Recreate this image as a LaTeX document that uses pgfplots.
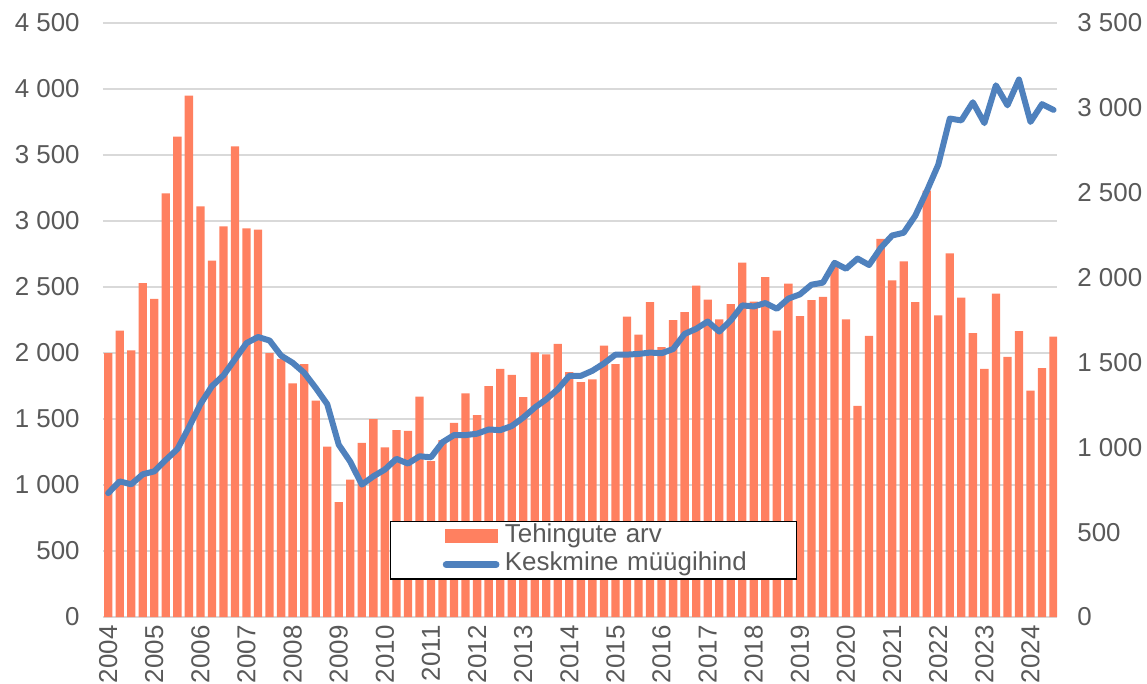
\documentclass[border=0pt]{standalone}
\usepackage{pgfplots}
\pgfplotsset{compat=1.18}
\usepackage{pgfplotstable}
\usepackage{fontspec}
\setmainfont{Liberation Sans}
\definecolor{barc}{RGB}{255,128,96}
\definecolor{linec}{RGB}{79,129,189}
\definecolor{txt}{RGB}{89,89,89}
\definecolor{gridc}{RGB}{217,217,217}
\newcommand\lab{\fontsize{13}{15}\selectfont}

% quarterly data, q=0 is 2004 Q1
\pgfplotstableread{
q n p
0 2000 730
1 2170 799
2 2020 782
3 2530 841
4 2410 858
5 3210 926
6 3640 989
7 3950 1117
8 3110 1254
9 2700 1360
10 2960 1424
11 3565 1519
12 2945 1614
13 2935 1650
14 2000 1629
15 1955 1540
16 1770 1498
17 1915 1439
18 1640 1350
19 1290 1254
20 870 1015
21 1040 915
22 1320 780
23 1500 829
24 1285 869
25 1415 932
26 1410 904
27 1670 947
28 1180 941
29 1340 1030
30 1470 1072
31 1695 1072
32 1530 1080
33 1750 1105
34 1880 1101
35 1835 1125
36 1665 1175
37 2005 1234
38 1990 1283
39 2070 1342
40 1855 1421
41 1780 1421
42 1800 1451
43 2055 1494
44 1915 1546
45 2275 1546
46 2140 1550
47 2385 1558
48 2045 1554
49 2250 1579
50 2310 1668
51 2510 1698
52 2405 1741
53 2255 1682
54 2370 1747
55 2685 1836
56 2390 1830
57 2575 1850
58 2170 1816
59 2525 1876
60 2280 1901
61 2400 1958
62 2425 1970
63 2650 2087
64 2255 2052
65 1600 2112
66 2130 2074
67 2865 2174
68 2550 2248
69 2695 2264
70 2385 2364
71 3230 2509
72 2285 2665
73 2755 2937
74 2420 2926
75 2150 3033
76 1880 2910
77 2450 3133
78 1970 3015
79 2165 3167
80 1715 2917
81 1885 3022
82 2125 2988
}\data

\begin{document}
\begin{tikzpicture}
\useasboundingbox (-51.5bp,-33.5bp) rectangle (522bp,308.5bp);
\begin{axis}[
    scale only axis, width=477bp, height=297bp,
    xmin=-0.45, xmax=82.3, ymin=0, ymax=4500,
    axis x line*=bottom, axis y line*=left,
    x axis line style={draw=gridc, line width=0.9bp, -},
    y axis line style={draw=none},
    major tick length=0,
    ytick={0,500,...,4500},
    ymajorgrids, grid style={gridc, line width=0.8bp},
    xtick={0,4,...,80},
    xticklabels={2004,2005,2006,2007,2008,2009,2010,2011,2012,2013,2014,2015,2016,2017,2018,2019,2020,2021,2022,2023,2024},
    tick label style={font=\lab, text=txt},
    xticklabel style={rotate=90, anchor=east, inner xsep=4bp, inner ysep=0pt},
    yticklabel style={inner xsep=0pt, xshift=-11.5bp},
    scaled y ticks=false,
    /pgf/number format/1000 sep={\ },
    /pgf/number format/assume math mode=true,
]
\addplot[ybar, bar width=0.72, fill=barc, draw=none] table[x=q, y=n] {\data};
\end{axis}
\begin{axis}[
    scale only axis, width=477bp, height=297bp,
    xmin=-0.45, xmax=82.3, ymin=0, ymax=3500,
    axis x line=none, axis y line*=right,
    y axis line style={draw=none},
    major tick length=0,
    ytick={0,500,...,3500},
    yticklabel style={font=\lab, text=txt, anchor=west, inner xsep=0pt, xshift=10bp},
    scaled y ticks=false,
    /pgf/number format/1000 sep={\ },
    /pgf/number format/assume math mode=true,
    legend cell align=left,
    legend style={at={(0.3004,0.0623)}, anchor=south west, draw=black,
        line width=0.75bp, fill=white, inner xsep=0pt, inner ysep=0.2bp,
        row sep=0pt, font=\lab, text=txt,
        nodes={inner sep=0pt, text height=10.3bp, text depth=3.95bp},
        /tikz/every odd column/.append style={column sep=2.7bp},
        /tikz/every even column/.append style={text width=145.8bp}},
]
\addlegendimage{legend image code/.code={
    \path[draw=none, fill=none] (0bp,-1bp) rectangle (54bp,1bp);
    \fill[barc, draw=none] (27.4bp,-3.4bp) rectangle (53.7bp,3.4bp);}}
\addlegendentry{Tehingute arv}
\addplot[linec, line width=3bp, line join=round, line cap=round,
    legend image code/.code={
    \path[draw=none, fill=none] (0bp,-1bp) rectangle (54bp,1bp);
    \draw[linec, line width=3.35bp, line cap=round] (27.9bp,0) -- (52.9bp,0);}]
    table[x=q, y=p] {\data};
\addlegendentry{Keskmine müügihind}
\end{axis}
\end{tikzpicture}
\end{document}
